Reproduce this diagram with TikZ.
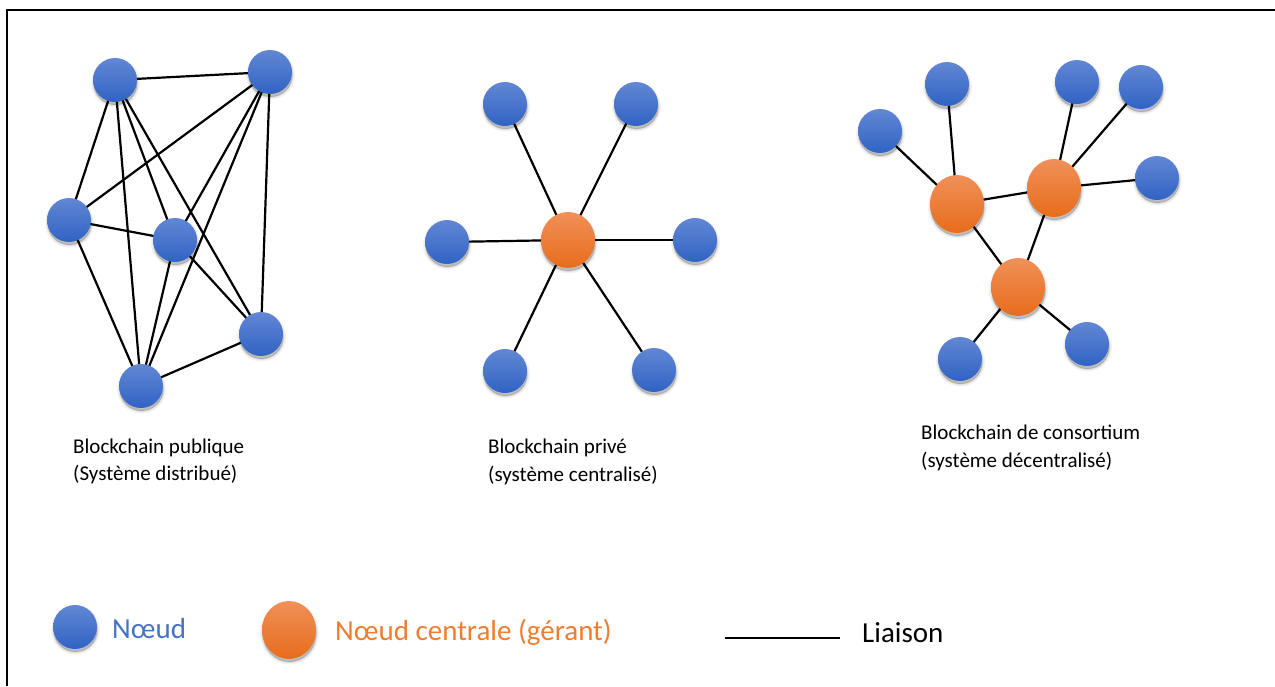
\documentclass[tikz,border=0pt]{standalone}
\usepackage{fontspec}
\setmainfont{Carlito}
\usetikzlibrary{backgrounds,shapes.geometric}

\definecolor{nodeTop}{RGB}{98,135,212}
\definecolor{nodeBot}{RGB}{48,99,196}
\definecolor{hubTop}{RGB}{240,144,88}
\definecolor{hubBot}{RGB}{232,108,28}
\definecolor{legBlue}{RGB}{68,114,196}
\definecolor{legOrange}{RGB}{237,125,49}

\tikzset{
  softshadow/.style={
    preaction={draw=black, draw opacity=0.05, line width=5pt,
      transform canvas={xshift=0.5pt, yshift=-3pt}},
    preaction={draw=black, draw opacity=0.08, line width=2pt,
      transform canvas={xshift=0.5pt, yshift=-3pt}},
    preaction={fill=black, fill opacity=0.22,
      transform canvas={xshift=0.5pt, yshift=-3pt}}},
  peer/.style={circle, inner sep=0pt, minimum size=44pt, draw=none,
    softshadow, top color=nodeTop, bottom color=nodeBot},
  hub/.style={ellipse, inner sep=0pt, minimum width=54pt, minimum height=58pt,
    draw=none, softshadow, top color=hubTop, bottom color=hubBot},
  link/.style={draw=black, line width=2.2pt},
  caption/.style={anchor=base west, inner sep=0pt,
    font=\fontsize{21}{27}\selectfont},
  legendtext/.style={anchor=base west, inner sep=0pt,
    font=\fontsize{29}{33}\selectfont},
}

\begin{document}
\begin{tikzpicture}[x=1pt, y=-1pt]
\useasboundingbox (0,0) rectangle (1275,686);

% outer frame (top and left sides)
\coordinate (frTR) at (1275,10);
\coordinate (frTL) at (7,10);
\coordinate (frBL) at (7,686);
\draw[line width=2pt] (frTR) -- (frTL) -- (frBL);

% ---------- public blockchain: fully meshed peers ----------
\node[peer] (pa) at (115,80) {};
\node[peer] (pb) at (270,72) {};
\node[peer] (pc) at (69,220) {};
\node[peer] (pd) at (175,240) {};
\node[peer] (pe) at (261,334) {};
\node[peer] (pf) at (141,386) {};
\begin{scope}[on background layer]
\foreach \u/\v in {pa/pb,pa/pc,pa/pd,pa/pe,pa/pf,pb/pc,pb/pd,pb/pe,pb/pf,
                   pc/pd,pc/pf,pd/pe,pd/pf,pe/pf}
  \draw[link] (\u.center) -- (\v.center);
\end{scope}
\node[caption] (capPubA) at (73,453) {Blockchain publique};
\node[caption] (capPubB) at (73,480) {(Système distribué)};

% ---------- private blockchain: star around one hub ----------
\node[hub, minimum width=54pt, minimum height=56pt] (hc) at (568,240) {};
\node[peer] (s1) at (505,104) {};
\node[peer] (s2) at (636,104) {};
\node[peer] (s3) at (447,242) {};
\node[peer] (s4) at (695,240) {};
\node[peer] (s5) at (505,371) {};
\node[peer] (s6) at (654,370) {};
\begin{scope}[on background layer]
\foreach \v in {s1,s2,s3,s4,s5,s6}
  \draw[link] (hc.center) -- (\v.center);
\end{scope}
\node[caption] (capPrvA) at (488,453) {Blockchain privé};
\node[caption] (capPrvB) at (488,481) {(système centralisé)};

% ---------- consortium blockchain: several hubs ----------
\node[hub] (h1) at (957,204) {};
\node[hub] (h2) at (1054,188) {};
\node[hub] (h3) at (1018,287) {};
\node[peer] (c1) at (880,131) {};
\node[peer] (c2) at (947,84) {};
\node[peer] (c3) at (1077,82) {};
\node[peer] (c4) at (1141,87) {};
\node[peer] (c5) at (1157,178) {};
\node[peer] (c6) at (960,359) {};
\node[peer] (c7) at (1087,344) {};
\begin{scope}[on background layer]
\foreach \u/\v in {c1/h1,c2/h1,h1/h2,c3/h2,c4/h2,c5/h2,h1/h3,h2/h3,h3/c6,h3/c7}
  \draw[link] (\u.center) -- (\v.center);
\end{scope}
\node[caption] (capConA) at (921,439) {Blockchain de consortium};
\node[caption] (capConB) at (921,467) {(système décentralisé)};

% ---------- legend ----------
\node[peer] (legPeer) at (75,627) {};
\node[legendtext, text=legBlue] (legPeerTxt) at (112,638) {Nœud};
\node[hub, minimum height=58pt] (legHub) at (289,630) {};
\node[legendtext, text=legOrange] (legHubTxt) at (335,640) {Nœud centrale (gérant)};
\coordinate (legLinkA) at (725,638);
\coordinate (legLinkB) at (840,638);
\draw[link] (legLinkA) -- (legLinkB);
\node[legendtext, text=black] (legLinkTxt) at (862,642) {Liaison};
\end{tikzpicture}
\end{document}
